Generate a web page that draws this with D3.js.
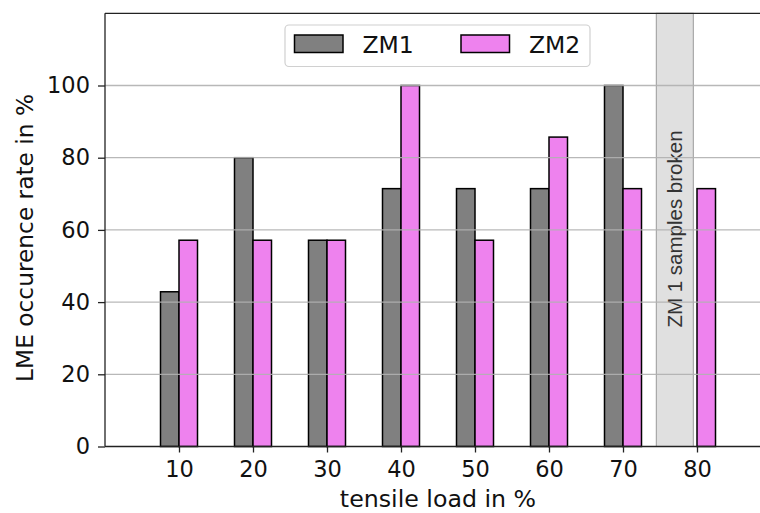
<!DOCTYPE html>
<html>
<head>
<meta charset="utf-8">
<script src="https://cdn.jsdelivr.net/npm/d3@7"></script>
<style>
  html, body { margin: 0; padding: 0; background: #fff; }
  svg { display: block; }
</style>
</head>
<body>
<svg id="chart" width="760" height="513"></svg>
<script>
const loads = [10, 20, 30, 40, 50, 60, 70, 80];
const zm1 = [42.86, 80, 57.14, 71.43, 71.43, 71.43, 100, null];
const zm2 = [57.14, 57.14, 57.14, 100, 57.14, 85.71, 71.43, 71.43];
const seriesNames = ["ZM1", "ZM2"];
const seriesColors = ["#808080", "#ee82ee"];
const yTicks = [0, 20, 40, 60, 80, 100];
const xTicks = [10, 20, 30, 40, 50, 60, 70, 80];
const brokenSpan = [74.5, 79.5];
const brokenLabel = "ZM 1 samples broken";
const xLabel = "tensile load in %";
const yLabel = "LME occurence rate in %";

const svg = d3.select("#chart");
const margin = { left: 105, top: 13.3, right: 771, bottom: 446.5 };
const x = d3.scaleLinear().domain([0, 90]).range([margin.left, margin.right]);
const y = d3.scaleLinear().domain([0, 120]).range([margin.bottom, margin.top]);
const barW = 2.5;
const font = "DejaVu Sans, sans-serif";

// broken span
svg.append("rect")
  .attr("x", x(brokenSpan[0])).attr("y", y(120))
  .attr("width", x(brokenSpan[1]) - x(brokenSpan[0]))
  .attr("height", y(0) - y(120))
  .attr("fill", "#d3d3d3").attr("fill-opacity", 0.7)
  .attr("stroke", "#9a9a9a").attr("stroke-width", 1);

svg.append("text")
  .attr("transform", `translate(${x((brokenSpan[0] + brokenSpan[1]) / 2) + 7},229) rotate(-90)`)
  .attr("text-anchor", "middle")
  .attr("font-family", "Liberation Sans, Arial, sans-serif")
  .attr("font-size", 20.5)
  .attr("fill", "#333")
  .text(brokenLabel);

// bars
const data = loads.map((l, i) => ({ l, v: [zm1[i], zm2[i]] }));
[0, 1].forEach(s => {
  svg.append("g").selectAll("rect")
    .data(data.filter(d => d.v[s] != null))
    .join("rect")
    .attr("x", d => x(d.l + (s === 0 ? -barW : 0)))
    .attr("y", d => y(d.v[s]))
    .attr("width", x(barW) - x(0))
    .attr("height", d => y(0) - y(d.v[s]))
    .attr("fill", seriesColors[s])
    .attr("stroke", "#000").attr("stroke-width", 1.5);
});

// gridlines (on top)
svg.append("g").selectAll("line")
  .data(yTicks.filter(t => t > 0))
  .join("line")
  .attr("x1", x(0)).attr("x2", x(90))
  .attr("y1", d => y(d)).attr("y2", d => y(d))
  .attr("stroke", "#b0b0b0").attr("stroke-width", 1.3).attr("stroke-opacity", 0.9);

// frame
svg.append("line").attr("x1", x(0)).attr("x2", x(90)).attr("y1", y(120)).attr("y2", y(120))
  .attr("stroke", "#222").attr("stroke-width", 1.3);
svg.append("line").attr("x1", x(90)).attr("x2", x(90)).attr("y1", y(120)).attr("y2", y(0))
  .attr("stroke", "#222").attr("stroke-width", 1.3);

// axes
const xAxis = d3.axisBottom(x).tickValues(xTicks).tickSize(6).tickPadding(9).tickFormat(d3.format("d"));
const gx = svg.append("g").attr("transform", `translate(0,${y(0)})`).call(xAxis);
gx.select(".domain").attr("d", `M${x(0)},0H${x(90)}`).attr("stroke", "#222").attr("stroke-width", 1.3);
gx.selectAll(".tick line").attr("stroke", "#222").attr("stroke-width", 1.3);
gx.selectAll("text").attr("font-family", font).attr("font-size", 22.5).attr("fill", "#111");

const yAxis = d3.axisLeft(y).tickValues(yTicks).tickSize(7).tickPadding(8).tickFormat(d3.format("d"));
const gy = svg.append("g").attr("transform", `translate(${x(0)},0)`).call(yAxis);
gy.select(".domain").attr("d", `M0,${y(0)}V${y(120)}`).attr("stroke", "#222").attr("stroke-width", 1.3);
gy.selectAll(".tick line").attr("stroke", "#222").attr("stroke-width", 1.3);
gy.selectAll("text").attr("font-family", font).attr("font-size", 22.5).attr("fill", "#111");

// axis labels
svg.append("text")
  .attr("x", x(45)).attr("y", 507)
  .attr("text-anchor", "middle")
  .attr("font-family", font).attr("font-size", 23.7).attr("fill", "#111")
  .text(xLabel);
svg.append("text")
  .attr("transform", `translate(33,${(y(0) + y(120)) / 2 + 8}) rotate(-90)`)
  .attr("text-anchor", "middle")
  .attr("font-family", font).attr("font-size", 23.3).attr("fill", "#111")
  .text(yLabel);

// legend
const lg = svg.append("g");
lg.append("rect")
  .attr("x", 285).attr("y", 25).attr("width", 305).attr("height", 41.5)
  .attr("rx", 4).attr("fill", "#fff").attr("fill-opacity", 0.85)
  .attr("stroke", "#d0d0d0").attr("stroke-width", 1.2);
const legX = [294.5, 461];
seriesNames.forEach((n, i) => {
  lg.append("rect")
    .attr("x", legX[i]).attr("y", 35).attr("width", 48.5).attr("height", 17.5)
    .attr("fill", seriesColors[i]).attr("stroke", "#000").attr("stroke-width", 1.5);
  lg.append("text")
    .attr("x", legX[i] + 68).attr("y", 53)
    .attr("font-family", font).attr("font-size", 23.5).attr("fill", "#111")
    .text(n);
});
</script>
</body>
</html>
